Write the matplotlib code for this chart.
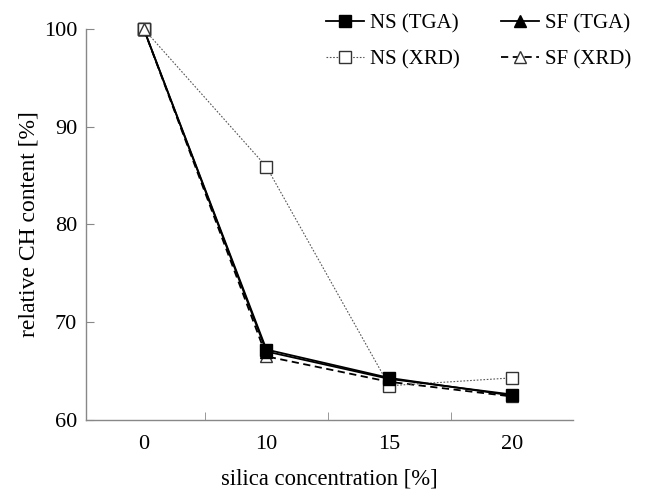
import matplotlib
matplotlib.use("Agg")
import matplotlib.pyplot as plt
import numpy as np

# data
categories = ["0", "10", "15", "20"]
ns_tga = [100, 67.2, 64.3, 62.5]
sf_tga = [100, 67.0, 64.2, 62.6]
ns_xrd = [100, 85.9, 63.5, 64.3]
sf_xrd = [100, 66.5, 63.9, 62.4]

plt.rcParams["font.family"] = ["Liberation Serif", "DejaVu Serif"]
AXIS = "#888888"

fig = plt.figure(figsize=(6.47, 4.90), dpi=100)
ax = fig.add_axes([0.133, 0.143, 0.753, 0.798])

x = np.arange(len(categories))
open_sq = dict(marker="s", ms=8, mfc="white", mec="#333333", mew=1.0)
open_tri = dict(marker="^", ms=8, mfc="white", mec="#333333", mew=1.0)

ax.plot(x, ns_tga, color="black", lw=1.3, marker="s", ms=8,
        mfc="black", mec="black", label="NS (TGA)", clip_on=False, zorder=4)
ax.plot(x, ns_xrd, color="#555555", lw=0.8, ls=(0, (1.5, 1.5)), **open_sq,
        label="NS (XRD)", clip_on=False, zorder=3)
ax.plot(x, sf_tga, color="black", lw=1.3, marker="^", ms=8,
        mfc="black", mec="black", label="SF (TGA)", clip_on=False, zorder=5)
ax.plot(x, sf_xrd, color="black", lw=1.3, ls=(0, (4, 2.5)), **open_tri,
        label="SF (XRD)", clip_on=False, zorder=2)

# at 0 % the open XRD markers sit on top of the filled ones
ax.plot(x[:1], ns_xrd[:1], ls="none", **open_sq, clip_on=False, zorder=6)
ax.plot(x[:1], sf_xrd[:1], ls="none", **open_tri, clip_on=False, zorder=7)

ax.set_xlim(-0.47, 3.5)
ax.set_ylim(60, 100)
ax.set_yticks([60, 70, 80, 90, 100])
ax.set_xticks(x)
ax.set_xticklabels(categories)
ax.set_xticks([0.5, 1.5, 2.5], minor=True)

for side in ["top", "right"]:
    ax.spines[side].set_visible(False)
for side in ["left", "bottom"]:
    ax.spines[side].set_color(AXIS)
    ax.spines[side].set_linewidth(1.0)

ax.tick_params(axis="y", direction="in", length=6, color=AXIS, labelsize=16, pad=6.5)
ax.tick_params(axis="x", which="major", length=0, labelsize=16, pad=11)
ax.tick_params(axis="x", which="minor", direction="in", length=6, color=AXIS)

ax.set_xlabel("silica concentration [%]", fontsize=16.3, labelpad=10)
ax.set_ylabel("relative CH content [%]", fontsize=17, labelpad=3)

ax.legend(loc="upper right", bbox_to_anchor=(1.005, 1.01), bbox_transform=fig.transFigure,
          ncol=2, frameon=False, fontsize=15, handlelength=1.8, handletextpad=0.3,
          columnspacing=2.0, labelspacing=0.8)

fig.savefig("out.png", dpi=100, facecolor="white")
